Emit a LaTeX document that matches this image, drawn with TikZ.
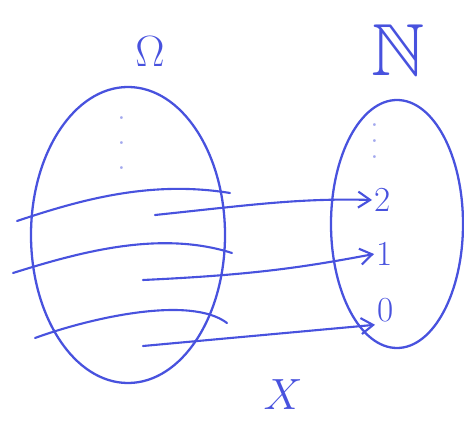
\documentclass[tikz,border=0pt]{standalone}
\usepackage{amssymb}
\usetikzlibrary{arrows.meta}
\definecolor{handblue}{RGB}{72,82,222}

\begin{document}
\begin{tikzpicture}[x=0.2mm, y=-0.2mm, >={Straight Barb[length=2.4mm,width=3.2mm]},
    line width=1.3pt, line cap=round,
    % the pen lines: sets, cuts and the map arrows
    pen/.style={draw=handblue, line width=1.3pt},
    cut/.style={draw=handblue, line width=1.2pt},
    mapto/.style={draw=handblue, line width=1.2pt, ->},
    setlab/.style={text=handblue, inner sep=0pt},
    numlab/.style={text=handblue, inner sep=1pt, font=\fontsize{20}{20}\selectfont},
    faint/.style={text=handblue!50, inner sep=0pt, font=\fontsize{20}{20}\selectfont}]
  \useasboundingbox (0,0) rectangle (464,421);

  % ---- the two sets
  \draw[pen] (128,235) ellipse [x radius=97, y radius=148];
  \draw[pen] (397,224) ellipse [x radius=66, y radius=124];

  \node[setlab, font=\fontsize{26}{26}\selectfont] (omega) at (150,52) {$\Omega$};
  \node[setlab, font=\fontsize{42}{42}\selectfont] (nat) at (398,50) {$\mathbb{N}$};
  \node[setlab, font=\fontsize{36}{36}\selectfont] (xlab) at (283,395) {$X$};

  % ---- the dots further up
  \foreach \y [count=\i] in {118,143,168} \node[faint] (od\i) at (122,\y) {.};
  \foreach \y [count=\i] in {125,141,157} \node[faint] (nd\i) at (375,\y) {.};

  % ---- the cuts through Omega
  \draw[cut] (17,221) .. controls (80,200) and (150,180) .. (230,193);
  \draw[cut] (13,273) .. controls (80,252) and (160,230) .. (232,253);
  \draw[cut] (35,338) .. controls (90,318) and (190,295) .. (227,323);

  % ---- the values in N
  \node[numlab] (two) at (383,200) {2};
  \node[numlab] (one) at (385,254) {1};
  \node[numlab] (zero) at (386,310) {0};

  % ---- each piece goes to its value
  \coordinate (p2) at (155,215);
  \coordinate (p1) at (143,280);
  \coordinate (p0) at (143,346);
  \draw[mapto] (p2) .. controls (250,205) and (300,198) .. (two.west);
  \draw[mapto] (p1) .. controls (250,275) and (300,268) .. (one.west);
  \draw[mapto] (p0) -- (zero.south west);
\end{tikzpicture}
\end{document}
